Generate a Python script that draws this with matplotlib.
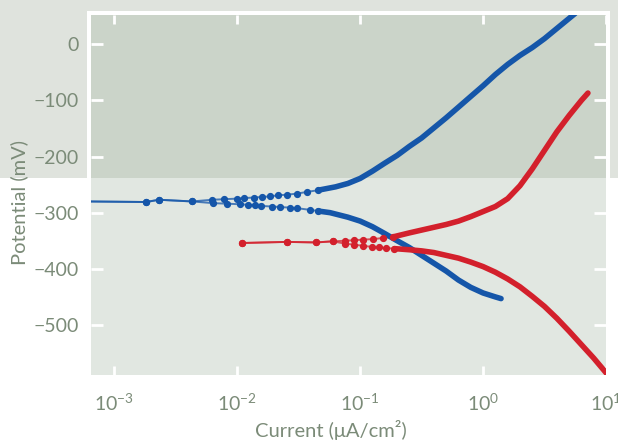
import numpy as np
import matplotlib
matplotlib.use('Agg')
import matplotlib.pyplot as plt
from matplotlib.patches import Rectangle

# blue sample, anodic branch (current in uA/cm2, potential in mV)
blue_up_i = [0.0006, 0.00181, 0.00231, 0.00429, 0.00624, 0.00782, 0.00995, 0.01135, 0.0137, 0.0159,
             0.0185, 0.0215, 0.0254, 0.0307, 0.0370, 0.0454,
             0.0631, 0.0794, 0.1, 0.126, 0.158, 0.2, 0.251, 0.316, 0.398, 0.501, 0.631, 0.794,
             1.0, 1.259, 1.585, 1.995, 2.512, 3.162, 3.981, 5.012, 5.623]
blue_up_e = [-280, -281, -277, -280, -277, -276, -275, -274, -273, -272,
             -271, -269, -268, -266, -263, -260,
             -254, -248, -239, -226, -212, -198, -182, -167, -149, -131, -112, -93,
             -74, -54, -36, -20, -6, 10, 28, 46, 55]
blue_up_n = 16  # points drawn with markers

# blue sample, cathodic branch
blue_dn_i = [0.0006, 0.00181, 0.00231, 0.00429, 0.00635, 0.00826, 0.01054, 0.01225, 0.0140, 0.0156,
             0.0192, 0.0223, 0.0269, 0.0307, 0.0391, 0.0454,
             0.057, 0.0794, 0.1, 0.126, 0.158, 0.2, 0.251, 0.316, 0.398, 0.501, 0.631, 0.794,
             1.0, 1.259, 1.4]
blue_dn_e = [-280, -281, -277, -280, -283, -284, -285, -286, -287, -288,
             -289, -290, -291, -292, -295, -297,
             -300, -308, -315, -325, -337, -350, -362, -376, -390, -404, -420, -433,
             -443, -450, -453]
blue_dn_n = 16

# red sample, anodic branch
red_up_i = [0.0110, 0.0254, 0.0437, 0.0597, 0.0748, 0.0896, 0.1058, 0.128, 0.154, 0.186,
            0.251, 0.316, 0.398, 0.501, 0.631, 0.794, 1.0, 1.259, 1.585, 1.995, 2.512,
            3.162, 3.981, 5.012, 6.31, 7.13]
red_up_e = [-354, -352, -353, -351, -350, -349, -348, -347, -345, -343,
            -336, -331, -326, -321, -315, -307, -298, -289, -275, -252, -222,
            -189, -156, -127, -100, -87]
red_up_n = 10

# red sample, cathodic branch
red_dn_i = [0.0110, 0.0254, 0.0437, 0.0597, 0.0748, 0.0896, 0.1058, 0.125, 0.143, 0.163, 0.19,
            0.251, 0.316, 0.398, 0.501, 0.631, 0.794, 1.0, 1.259, 1.585, 1.995, 2.512,
            3.162, 3.981, 5.012, 6.31, 7.943, 10.0, 11.0]
red_dn_e = [-354, -352, -353, -351, -355, -357, -359, -361, -362, -363, -364,
            -366, -368, -371, -376, -381, -388, -396, -406, -418, -432, -449,
            -467, -488, -511, -535, -559, -585, -598]
red_dn_n = 11

xticks = [1e-3, 1e-2, 1e-1, 1e0, 1e1]
yticks = [0, -100, -200, -300, -400, -500]

blue = '#1556a9'
red = '#d3202c'
txt = '#7b8b78'

plt.rcParams['font.family'] = ['Lato', 'DejaVu Sans']

fig = plt.figure(figsize=(6.18, 4.41), dpi=100)
fig.patch.set_facecolor('white')

# grey band at the top of the page and the white frame round the plot
fig.add_artist(Rectangle((0, 0.5964), 1, 0.4036, transform=fig.transFigure,
                         facecolor='#dfe3dd', edgecolor='none', zorder=-3))
fig.add_artist(Rectangle((0.1408, 0.5964), 0.8463, 0.3787, transform=fig.transFigure,
                         facecolor='white', edgecolor='none', zorder=-2))

ax = fig.add_axes([0.1472, 0.1497, 0.8334, 0.8163])
ax.set_facecolor('#e1e7e1')
ax.axhspan(-238, 80, color='#cbd4c9', lw=0, zorder=0)

def branch(i, e, n, c):
  # thin line with markers for the sparse points, thick line for the dense part
  ax.plot(i, e, color=c, lw=1.4, alpha=0.75, zorder=2)
  ax.plot(i[:n], e[:n], 'o', color=c, ms=4.2, zorder=3)
  ax.plot(i[n - 1:], e[n - 1:], color=c, lw=4, solid_capstyle='round',
          solid_joinstyle='round', zorder=3)

branch(blue_up_i, blue_up_e, blue_up_n, blue)
branch(blue_dn_i, blue_dn_e, blue_dn_n, blue)
branch(red_up_i, red_up_e, red_up_n, red)
branch(red_dn_i, red_dn_e, red_dn_n, red)

ax.set_xscale('log')
ax.set_xlim(10**-3.19, 10**1.0)
ax.set_ylim(-589, 52)
ax.set_xticks(xticks)
ax.set_yticks(yticks)
ax.minorticks_off()

for s in ax.spines.values():
  s.set_visible(False)

ax.tick_params(axis='both', direction='in', colors='white', width=2,
               top=True, right=True, labelsize=14, labelcolor=txt)
ax.tick_params(axis='y', length=8.5, pad=9)
ax.tick_params(axis='x', length=6.5, pad=13)

ax.set_xlabel('Current (μA/cm²)', fontsize=14.5, color=txt)
ax.set_ylabel('Potential (mV)', fontsize=14.5, color=txt)
ax.xaxis.set_label_coords(0.466, -0.125)
ax.yaxis.set_label_coords(-0.122, 0.478)

fig.savefig('out.png', dpi=100, facecolor=fig.get_facecolor())
